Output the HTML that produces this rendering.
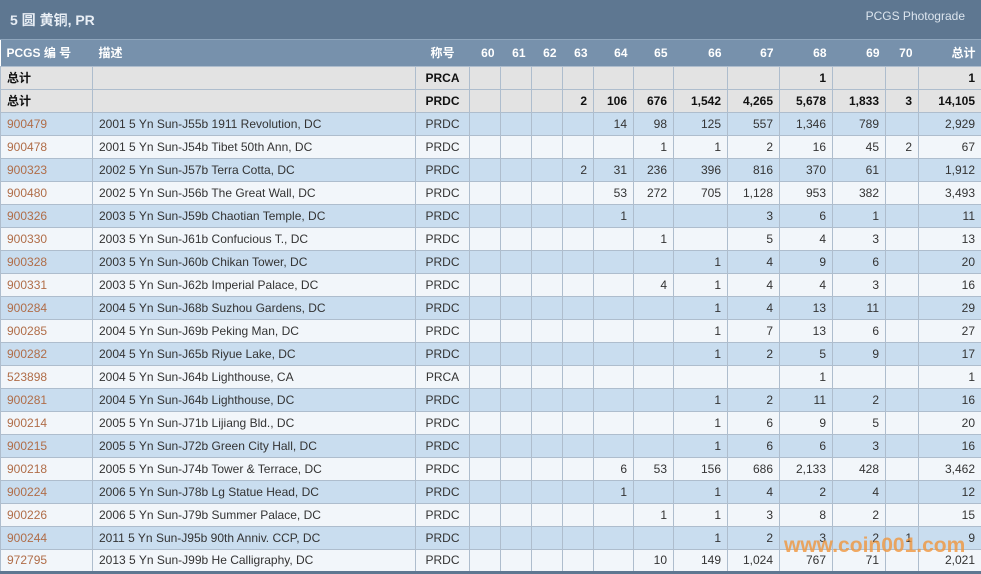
<!DOCTYPE html>
<html><head><meta charset="utf-8"><style>
*{margin:0;padding:0;box-sizing:border-box}
body{width:981px;height:574px;overflow:hidden;background:#fff;font-family:"Liberation Sans","Noto Sans CJK SC",sans-serif;font-size:12px;color:#333;position:relative}
.top{position:absolute;left:0;top:0;width:981px;height:40px;background:#5e7791;border-bottom:1px solid #8fa6bd}
.top .t{position:absolute;left:10px;top:10px;color:#e8eef5;font-weight:bold;font-size:14px}
.top .r{position:absolute;right:16px;top:9px;color:#dce5ee;font-size:12px}
table{position:absolute;left:0;top:40px;width:981px;border-collapse:collapse;table-layout:fixed;border-bottom:3px solid #5e7791}
td,th{height:23px;border:1px solid #aebdcd;padding:0 6px;white-space:nowrap;overflow:hidden;text-align:right}
th{height:26px;background:#7791ac;color:#fff;font-weight:bold;border:none}
td:nth-child(1),td:nth-child(2),th:nth-child(1),th:nth-child(2){text-align:left}
td:nth-child(3),th:nth-child(3){text-align:center}
tr.tot td{background:#e3e3e3;font-weight:bold;color:#111}
tr.o td{background:#c9ddef}
tr.e td{background:#f2f6fa}
td.l{color:#b06d48}
.wm{position:absolute;left:784px;top:534px;font-size:21px;font-weight:bold;color:rgba(240,150,60,.8)}
</style></head><body>
<div class="top"><span class="t">5 圆 黄铜, PR</span><span class="r">PCGS Photograde</span></div>
<table>
<colgroup><col style="width:92px"><col style="width:323px"><col style="width:54px"><col style="width:31px"><col style="width:31px"><col style="width:31px"><col style="width:31px"><col style="width:40px"><col style="width:40px"><col style="width:54px"><col style="width:52px"><col style="width:53px"><col style="width:53px"><col style="width:33px"><col style="width:63px"></colgroup>
<tr><th>PCGS 编 号</th><th>描述</th><th>称号</th><th>60</th><th>61</th><th>62</th><th>63</th><th>64</th><th>65</th><th>66</th><th>67</th><th>68</th><th>69</th><th>70</th><th>总计</th></tr>
<tr class="tot"><td>总计</td><td></td><td>PRCA</td><td></td><td></td><td></td><td></td><td></td><td></td><td></td><td></td><td>1</td><td></td><td></td><td>1</td></tr>
<tr class="tot"><td>总计</td><td></td><td>PRDC</td><td></td><td></td><td></td><td>2</td><td>106</td><td>676</td><td>1,542</td><td>4,265</td><td>5,678</td><td>1,833</td><td>3</td><td>14,105</td></tr>
<tr class="o"><td class="l">900479</td><td>2001 5 Yn Sun-J55b 1911 Revolution, DC</td><td>PRDC</td><td></td><td></td><td></td><td></td><td>14</td><td>98</td><td>125</td><td>557</td><td>1,346</td><td>789</td><td></td><td>2,929</td></tr>
<tr class="e"><td class="l">900478</td><td>2001 5 Yn Sun-J54b Tibet 50th Ann, DC</td><td>PRDC</td><td></td><td></td><td></td><td></td><td></td><td>1</td><td>1</td><td>2</td><td>16</td><td>45</td><td>2</td><td>67</td></tr>
<tr class="o"><td class="l">900323</td><td>2002 5 Yn Sun-J57b Terra Cotta, DC</td><td>PRDC</td><td></td><td></td><td></td><td>2</td><td>31</td><td>236</td><td>396</td><td>816</td><td>370</td><td>61</td><td></td><td>1,912</td></tr>
<tr class="e"><td class="l">900480</td><td>2002 5 Yn Sun-J56b The Great Wall, DC</td><td>PRDC</td><td></td><td></td><td></td><td></td><td>53</td><td>272</td><td>705</td><td>1,128</td><td>953</td><td>382</td><td></td><td>3,493</td></tr>
<tr class="o"><td class="l">900326</td><td>2003 5 Yn Sun-J59b Chaotian Temple, DC</td><td>PRDC</td><td></td><td></td><td></td><td></td><td>1</td><td></td><td></td><td>3</td><td>6</td><td>1</td><td></td><td>11</td></tr>
<tr class="e"><td class="l">900330</td><td>2003 5 Yn Sun-J61b Confucious T., DC</td><td>PRDC</td><td></td><td></td><td></td><td></td><td></td><td>1</td><td></td><td>5</td><td>4</td><td>3</td><td></td><td>13</td></tr>
<tr class="o"><td class="l">900328</td><td>2003 5 Yn Sun-J60b Chikan Tower, DC</td><td>PRDC</td><td></td><td></td><td></td><td></td><td></td><td></td><td>1</td><td>4</td><td>9</td><td>6</td><td></td><td>20</td></tr>
<tr class="e"><td class="l">900331</td><td>2003 5 Yn Sun-J62b Imperial Palace, DC</td><td>PRDC</td><td></td><td></td><td></td><td></td><td></td><td>4</td><td>1</td><td>4</td><td>4</td><td>3</td><td></td><td>16</td></tr>
<tr class="o"><td class="l">900284</td><td>2004 5 Yn Sun-J68b Suzhou Gardens, DC</td><td>PRDC</td><td></td><td></td><td></td><td></td><td></td><td></td><td>1</td><td>4</td><td>13</td><td>11</td><td></td><td>29</td></tr>
<tr class="e"><td class="l">900285</td><td>2004 5 Yn Sun-J69b Peking Man, DC</td><td>PRDC</td><td></td><td></td><td></td><td></td><td></td><td></td><td>1</td><td>7</td><td>13</td><td>6</td><td></td><td>27</td></tr>
<tr class="o"><td class="l">900282</td><td>2004 5 Yn Sun-J65b Riyue Lake, DC</td><td>PRDC</td><td></td><td></td><td></td><td></td><td></td><td></td><td>1</td><td>2</td><td>5</td><td>9</td><td></td><td>17</td></tr>
<tr class="e"><td class="l">523898</td><td>2004 5 Yn Sun-J64b Lighthouse, CA</td><td>PRCA</td><td></td><td></td><td></td><td></td><td></td><td></td><td></td><td></td><td>1</td><td></td><td></td><td>1</td></tr>
<tr class="o"><td class="l">900281</td><td>2004 5 Yn Sun-J64b Lighthouse, DC</td><td>PRDC</td><td></td><td></td><td></td><td></td><td></td><td></td><td>1</td><td>2</td><td>11</td><td>2</td><td></td><td>16</td></tr>
<tr class="e"><td class="l">900214</td><td>2005 5 Yn Sun-J71b Lijiang Bld., DC</td><td>PRDC</td><td></td><td></td><td></td><td></td><td></td><td></td><td>1</td><td>6</td><td>9</td><td>5</td><td></td><td>20</td></tr>
<tr class="o"><td class="l">900215</td><td>2005 5 Yn Sun-J72b Green City Hall, DC</td><td>PRDC</td><td></td><td></td><td></td><td></td><td></td><td></td><td>1</td><td>6</td><td>6</td><td>3</td><td></td><td>16</td></tr>
<tr class="e"><td class="l">900218</td><td>2005 5 Yn Sun-J74b Tower &amp; Terrace, DC</td><td>PRDC</td><td></td><td></td><td></td><td></td><td>6</td><td>53</td><td>156</td><td>686</td><td>2,133</td><td>428</td><td></td><td>3,462</td></tr>
<tr class="o"><td class="l">900224</td><td>2006 5 Yn Sun-J78b Lg Statue Head, DC</td><td>PRDC</td><td></td><td></td><td></td><td></td><td>1</td><td></td><td>1</td><td>4</td><td>2</td><td>4</td><td></td><td>12</td></tr>
<tr class="e"><td class="l">900226</td><td>2006 5 Yn Sun-J79b Summer Palace, DC</td><td>PRDC</td><td></td><td></td><td></td><td></td><td></td><td>1</td><td>1</td><td>3</td><td>8</td><td>2</td><td></td><td>15</td></tr>
<tr class="o"><td class="l">900244</td><td>2011 5 Yn Sun-J95b 90th Anniv. CCP, DC</td><td>PRDC</td><td></td><td></td><td></td><td></td><td></td><td></td><td>1</td><td>2</td><td>3</td><td>2</td><td>1</td><td>9</td></tr>
<tr class="e"><td class="l">972795</td><td>2013 5 Yn Sun-J99b He Calligraphy, DC</td><td>PRDC</td><td></td><td></td><td></td><td></td><td></td><td>10</td><td>149</td><td>1,024</td><td>767</td><td>71</td><td></td><td>2,021</td></tr>
</table>
<div class="wm">www.coin001.com</div>
</body></html>
